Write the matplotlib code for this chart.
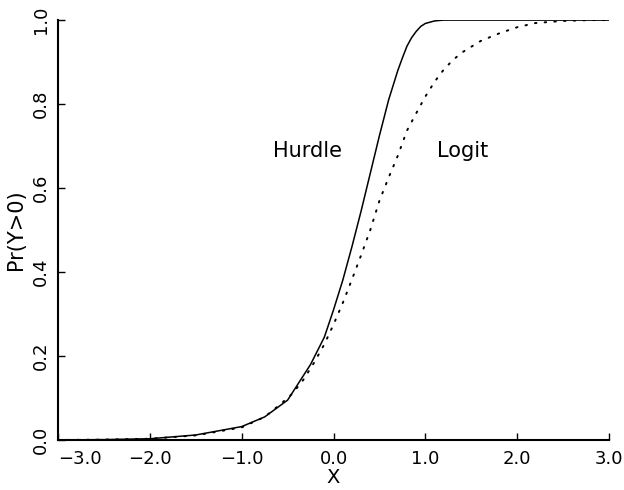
import matplotlib
matplotlib.use("Agg")
import matplotlib.pyplot as plt

# values
hurdle_x = [-3.0, -2.5, -2.0, -1.5, -1.0, -0.75, -0.5, -0.25, -0.1, 0.0, 0.1,
            0.2, 0.3, 0.4, 0.5, 0.6, 0.7, 0.75, 0.8, 0.85, 0.9, 0.95, 1.0,
            1.1, 1.2, 1.5, 2.0, 2.5, 3.0]
hurdle_y = [0.0, 0.001, 0.003, 0.012, 0.032, 0.055, 0.095, 0.18, 0.245, 0.31,
            0.38, 0.46, 0.545, 0.635, 0.725, 0.81, 0.88, 0.91, 0.938, 0.958,
            0.973, 0.985, 0.992, 0.998, 1.0, 1.0, 1.0, 1.0, 1.0]

logit_x = [-3.0, -2.5, -2.0, -1.5, -1.0, -0.75, -0.58, -0.45, -0.33, -0.215,
           -0.1, 0.0, 0.1, 0.2, 0.3, 0.4, 0.5, 0.6, 0.7, 0.8, 0.9, 1.0, 1.1,
           1.2, 1.3, 1.4, 1.6, 1.8, 2.0, 2.2, 2.5, 2.8, 3.0]
logit_y = [0.0, 0.001, 0.003, 0.011, 0.03, 0.055, 0.085, 0.11, 0.143, 0.183,
           0.228, 0.275, 0.326, 0.382, 0.44, 0.50, 0.57, 0.625, 0.677, 0.737,
           0.778, 0.818, 0.853, 0.882, 0.905, 0.923, 0.95, 0.968, 0.983,
           0.993, 0.998, 1.0, 1.0]

x_ticks = [-3.0, -2.0, -1.0, 0.0, 1.0, 2.0, 3.0]
y_ticks = [0.0, 0.2, 0.4, 0.6, 0.8, 1.0]

plt.rcParams["font.family"] = ["DejaVu Sans"]

fig = plt.figure(figsize=(6.24, 4.90), dpi=100)
ax = fig.add_axes([0.093, 0.102, 0.883, 0.857])

ax.plot(hurdle_x, hurdle_y, color="black", linewidth=1.1)
ax.plot(logit_x, logit_y, color="black", linewidth=1.4,
        linestyle=(0, (0.8, 4.2)), dash_capstyle="round")

ax.text(-0.28, 0.688, "Hurdle", fontsize=15, ha="center", va="center")
ax.text(1.41, 0.688, "Logit", fontsize=15, ha="center", va="center")

ax.set_xlim(-3.0, 3.0)
ax.set_ylim(0.0, 1.0)
ax.set_xticks(x_ticks)
ax.set_xticklabels([f"{v:.1f}".replace("-", "\u2212") for v in x_ticks])
ax.set_yticks(y_ticks)
ax.set_yticklabels([f"{v:.1f}" for v in y_ticks], rotation=90, va="center")
ax.get_xticklabels()[0].set_ha("left")

ax.tick_params(direction="in", length=5, width=1, labelsize=13, pad=7)
ax.tick_params(axis="y", pad=6)

ax.spines["top"].set_visible(False)
ax.spines["right"].set_visible(False)
ax.spines["left"].set_linewidth(1.5)
ax.spines["bottom"].set_linewidth(1.5)

ax.set_xlabel("X", fontsize=14, labelpad=0)
ax.set_ylabel("Pr(Y>0)", fontsize=15, labelpad=4)

fig.savefig("out.png", dpi=100)
